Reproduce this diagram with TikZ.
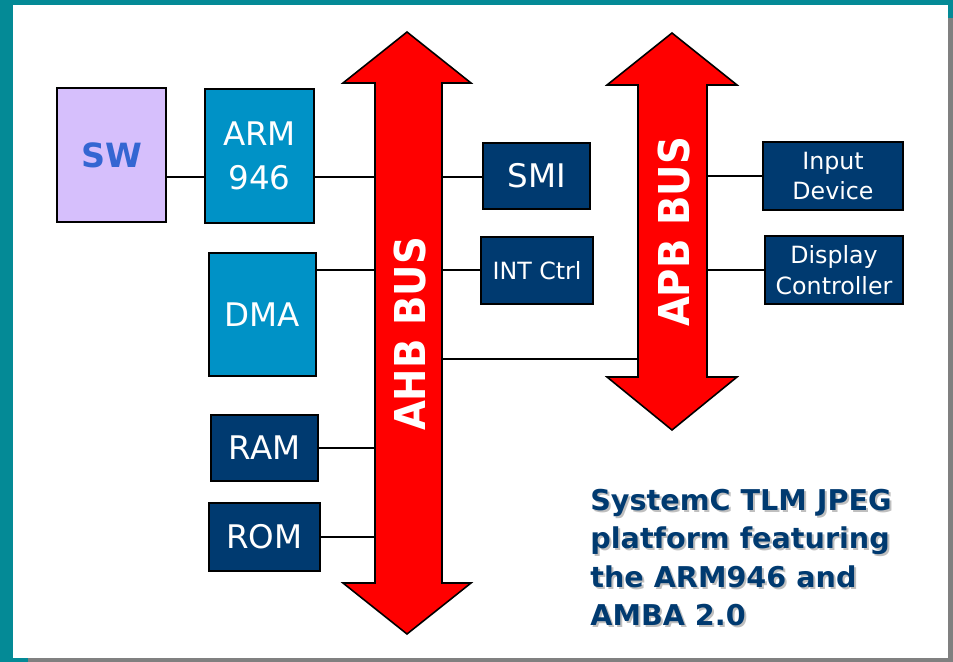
\documentclass[tikz,border=0pt]{standalone}
\usepackage{fontspec}
\setmainfont{DejaVu Sans}
\usetikzlibrary{positioning}

\definecolor{frameteal}{RGB}{4,138,150}
\definecolor{shadowgray}{RGB}{128,128,128}
\definecolor{swfill}{RGB}{214,191,252}
\definecolor{swtext}{RGB}{52,102,210}
\definecolor{cpufill}{RGB}{0,146,198}
\definecolor{navyfill}{RGB}{0,58,112}
\definecolor{busred}{RGB}{255,0,0}

\begin{document}
\begin{tikzpicture}[
    x=0.02cm, y=-0.02cm,
    block/.style={rectangle, draw=black, line width=0.9pt, text=white, align=center, inner sep=0pt},
    master/.style={block, fill=cpufill, font=\fontsize{18.5}{25}\selectfont},
    slave/.style={block, fill=navyfill, font=\fontsize{18.5}{25}\selectfont},
    periph/.style={block, fill=navyfill, font=\fontsize{13.5}{17.5}\selectfont},
    link/.style={line width=0.8pt},
    bus/.style={draw=black, line width=0.9pt, fill=busred},
    buslabel/.style={text=white, font=\bfseries\fontsize{22}{26}\selectfont, rotate=90, yscale=1.1}
]
\useasboundingbox (0,0) rectangle (953,662);

% Slide frame
\fill[frameteal] (0,0) rectangle (953,662);
\fill[shadowgray] (28,18) rectangle (953,662);
\fill[white] (13,5) rectangle (948,658);

% Buses
\draw[bus] (407,32) -- (471,83) -- (442,83) -- (442,583) -- (471,583) -- (407,634)
    -- (343,583) -- (375,583) -- (375,83) -- (343,83) -- cycle;
\draw[bus] (672,33) -- (737,85) -- (707,85) -- (707,377) -- (737,377) -- (672,430)
    -- (607,377) -- (638,377) -- (638,85) -- (607,85) -- cycle;
\node[buslabel] (ahblabel) at (410,334) {AHB BUS};
\node[buslabel] (apblabel) at (674,232) {APB BUS};
\coordinate (ahbL) at (375,0);
\coordinate (ahbR) at (442,0);
\coordinate (apbL) at (638,0);
\coordinate (apbR) at (707,0);

% Blocks
\node[block, fill=swfill, text=swtext, font=\bfseries\fontsize{19}{24}\selectfont,
    minimum width=2.18cm, minimum height=2.68cm] (sw) at (111.5,155) {SW};
\node[master, minimum width=2.18cm, minimum height=2.68cm] (arm) at (259.5,156) {ARM\\946};
\node[master, minimum width=2.14cm, minimum height=2.46cm] (dma) at (262.5,314.5) {DMA};
\node[slave, minimum width=2.14cm, minimum height=1.32cm] (ram) at (264.5,448) {RAM};
\node[slave, minimum width=2.22cm, minimum height=1.36cm] (rom) at (264.5,537) {ROM};
\node[slave, minimum width=2.14cm, minimum height=1.32cm] (smi) at (536.5,176) {SMI};
\node[periph, minimum width=2.24cm, minimum height=1.34cm] (intc) at (537,270.5) {INT Ctrl};
\node[periph, minimum width=2.80cm, minimum height=1.36cm] (input) at (833,176) {Input\\Device};
\node[periph, minimum width=2.76cm, minimum height=1.36cm] (disp) at (834,270) {Display\\Controller};

% Connections
\coordinate (row1) at (0,177);
\coordinate (row2) at (0,270);
\coordinate (bridge) at (0,359);
\draw[link] (sw.east |- row1) -- (arm.west |- row1);
\draw[link] (arm.east |- row1) -- (ahbL |- row1);
\draw[link] (ahbR |- row1) -- (smi.west |- row1);
\draw[link] (dma.east |- row2) -- (ahbL |- row2);
\draw[link] (ahbR |- row2) -- (intc.west |- row2);
\draw[link] (ram.east) -- (ram.east -| ahbL);
\draw[link] (rom.east) -- (rom.east -| ahbL);
\draw[link] (ahbR |- bridge) -- (apbL |- bridge);
\draw[link] (apbR |- input.west) -- (input.west);
\draw[link] (apbR |- disp.west) -- (disp.west);

% Caption
\node[anchor=north west, inner sep=0pt, align=left, text=black!25,
    font=\bfseries\fontsize{16.3}{21.8}\selectfont] (capshadow) at (592,491)
    {SystemC TLM JPEG\\platform featuring\\the ARM946 and\\AMBA 2.0};
\node[anchor=north west, inner sep=0pt, align=left, text=navyfill,
    font=\bfseries\fontsize{16.3}{21.8}\selectfont] (caption) at (590,489)
    {SystemC TLM JPEG\\platform featuring\\the ARM946 and\\AMBA 2.0};

\end{tikzpicture}
\end{document}
